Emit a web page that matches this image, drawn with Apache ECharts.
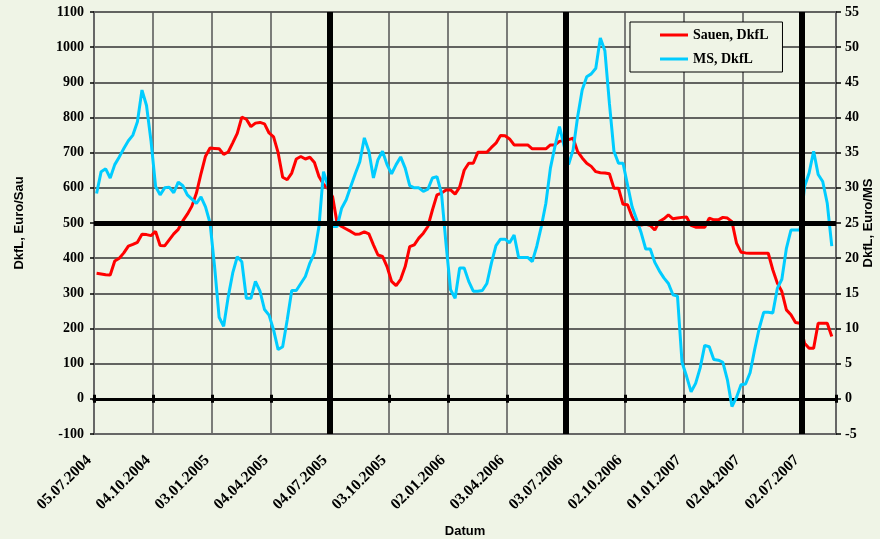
<!DOCTYPE html>
<html><head><meta charset="utf-8">
<script src="https://cdn.jsdelivr.net/npm/echarts@6/dist/echarts.min.js"></script>
<style>html,body{margin:0;padding:0;background:#eff4e6}#c{width:880px;height:539px}</style>
</head><body><div id="c"></div>
<script>
// Tick labels (every 13 weeks, Mondays)
const tickLabels = ['05.07.2004','04.10.2004','03.01.2005','04.04.2005','04.07.2005','03.10.2005','02.01.2006','03.04.2006','03.07.2006','02.10.2006','01.01.2007','02.04.2007','02.07.2007'];
// Weekly values (first value dated 4 days after first tick)
const sauen = [357,355,353,352,392,400,415,434,439,445,468,467,464,476,436,435,452,469,482,506,
525,548,585,640,690,713,712,711,695,702,728,755,801,795,774,784,786,782,756,745,
700,630,623,642,682,689,682,687,672,632,610,598,575,499,490,483,476,468,469,475,
469,438,409,405,376,334,322,340,376,433,438,457,471,490,537,580,585,594,594,582,
602,650,670,670,701,701,701,715,727,749,748,739,722,722,722,722,711,711,711,711,
722,722,732,735,737,741,703,685,670,661,646,643,642,640,599,599,553,552,518,494,
494,497,493,480,504,512,523,512,514,516,517,493,488,488,488,514,509,509,516,514,
504,443,417,415,414,414,414,414,414,367,329,305,253,239,217,215,158,144,144,215,
215,215,177];
const ms = [29.2,32.3,32.7,31.4,33.3,34.4,35.6,36.7,37.5,39.4,43.9,41.7,36.6,30.2,29.0,30.0,30.1,29.3,30.8,30.3,
29.0,28.4,27.8,28.7,27.3,25.0,18.8,11.6,10.3,14.5,17.9,20.2,19.5,14.3,14.3,16.7,15.3,12.7,11.9,9.8,
7.0,7.4,11.2,15.4,15.4,16.4,17.4,19.3,20.7,24.5,32.3,30.2,24.5,24.5,27.1,28.3,30.2,32.0,33.7,37.1,
35.2,31.4,34.0,35.2,33.3,32.0,33.3,34.4,32.8,30.3,30.0,30.0,29.5,29.8,31.4,31.6,29.2,22.0,15.5,14.3,
18.6,18.6,16.7,15.3,15.3,15.4,16.4,19.3,21.8,22.7,22.7,22.2,23.3,20.1,20.1,20.1,19.5,21.7,24.5,27.8,
32.8,35.9,38.7,36.0,33.3,35.4,40.1,43.9,45.8,46.2,47.0,51.3,49.5,42.0,35.2,33.5,33.5,30.4,27.3,25.5,
23.6,21.3,21.3,19.4,18.2,17.2,16.4,14.8,14.6,5.2,3.2,1.0,2.2,4.4,7.6,7.4,5.6,5.5,5.2,2.7,
-1.1,0.2,2.0,2.1,3.7,7.0,10.0,12.3,12.3,12.2,15.7,17.0,21.4,24.0,24.0,24.0,30.2,32.1,35.2,31.9,
30.9,27.8,21.7];
const legendNames = ['Sauen, DkfL','MS, DkfL'];
const yearMarks = ['04.07.2005','03.07.2006','02.07.2007'];
const refLevel = 500;

const weeksPerTick = 13;
const dataOffsetWeeks = 4 / 7;
const xMax = 163.5;
const serif = '"Liberation Serif", "Times New Roman", serif';
const sans = '"Liberation Sans", Arial, sans-serif';
const bg = '#eff4e6';

const toXY = arr => arr.map((v, i) => [i + dataOffsetWeeks, v]);
const markWeeks = yearMarks.map(l => tickLabels.indexOf(l) * weeksPerTick);

const baseX = { type: 'value', min: 0, max: xMax, interval: weeksPerTick, gridIndex: 0 };

const chart = echarts.init(document.getElementById('c'), null, { renderer: 'canvas' });
chart.setOption({
  backgroundColor: bg,
  animation: false,
  grid: { left: 94, right: 44, top: 12, bottom: 105, containLabel: false, outerBoundsMode: 'none' },
  legend: {
    data: legendNames, orient: 'vertical', left: 630, top: 22,
    icon: 'rect', itemWidth: 28, itemHeight: 3, itemGap: 10, itemTextGap: 3,
    padding: [6, 14, 6, 30], borderColor: '#000', borderWidth: 1, backgroundColor: bg,
    textStyle: { fontFamily: serif, fontWeight: 'bold', fontSize: 14, color: '#000' }
  },
  xAxis: [
    Object.assign({}, baseX, {
      position: 'bottom',
      axisLine: { onZero: false, lineStyle: { color: '#666', width: 2 } },
      axisTick: { show: false },
      splitLine: { show: true, lineStyle: { color: '#555', width: 1.5 } },
      axisLabel: {
        rotate: 45, margin: 19, showMaxLabel: false, padding: [0, 7, 0, 0],
        fontFamily: serif, fontWeight: 'bold', fontSize: 15.5, color: '#000',
        formatter: v => { const k = v / weeksPerTick; return Number.isInteger(k) && tickLabels[k] ? tickLabels[k] : ''; }
      },
      name: 'Datum', nameLocation: 'middle', nameGap: 91, nameMoveOverlap: false,
      nameTextStyle: { fontFamily: sans, fontWeight: 'bold', fontSize: 13, color: '#000' }
    }),
    Object.assign({}, baseX, {
      position: 'bottom',
      axisLine: { onZero: true, onZeroAxisIndex: 0, lineStyle: { color: '#000', width: 3 } },
      axisTick: { show: true, length: 4, lineStyle: { color: '#000', width: 3 } },
      axisLabel: { show: false }, splitLine: { show: false }
    }),
    Object.assign({}, baseX, {
      position: 'bottom',
      axisLine: { onZero: true, onZeroAxisIndex: 0, lineStyle: { color: '#000', width: 3 } },
      axisTick: { show: true, inside: true, length: 4, lineStyle: { color: '#000', width: 3 } },
      axisLabel: { show: false }, splitLine: { show: false }
    })
  ],
  yAxis: [
    {
      type: 'value', min: -100, max: 1100, interval: 100, position: 'left',
      axisLine: { show: true, onZero: false, lineStyle: { color: '#666', width: 2 } },
      axisTick: { show: true, length: 4, lineStyle: { color: '#000', width: 1.5 } },
      axisLabel: { fontFamily: serif, fontWeight: 'bold', fontSize: 14, color: '#000', margin: 10, formatter: v => String(v) },
      splitLine: { show: true, lineStyle: { color: '#333', width: 1.5 } },
      name: 'DkfL, Euro/Sau', nameLocation: 'middle', nameGap: 68, nameRotate: 90, nameMoveOverlap: false,
      nameTextStyle: { fontFamily: sans, fontWeight: 'bold', fontSize: 13, color: '#000' }
    },
    {
      type: 'value', min: -5, max: 55, interval: 5, position: 'right',
      axisLine: { show: true, onZero: false, lineStyle: { color: '#666', width: 2 } },
      axisTick: { show: true, length: 5, lineStyle: { color: '#000', width: 1.5 } },
      axisLabel: { fontFamily: serif, fontWeight: 'bold', fontSize: 14, color: '#000', margin: 9, formatter: v => String(v) },
      splitLine: { show: false },
      name: 'DkfL, Euro/MS', nameLocation: 'middle', nameGap: 26, nameRotate: 90, nameMoveOverlap: false,
      nameTextStyle: { fontFamily: sans, fontWeight: 'bold', fontSize: 13, color: '#000' }
    }
  ],
  series: [
    {
      name: legendNames[0], type: 'line', xAxisIndex: 0, yAxisIndex: 0,
      data: toXY(sauen), symbol: 'none', showSymbol: false,
      lineStyle: { color: '#ff0000', width: 3 }, itemStyle: { color: '#ff0000' }, z: 3,
      markLine: {
        silent: true, symbol: 'none', label: { show: false }, z: 6,
        lineStyle: { color: '#000', type: 'solid' },
        data: markWeeks.map(w => ({ xAxis: w, lineStyle: { color: '#000', width: 6, type: 'solid' } }))
          .concat([{ yAxis: refLevel, lineStyle: { color: '#000', width: 5, type: 'solid' } }])
      }
    },
    {
      name: legendNames[1], type: 'line', xAxisIndex: 0, yAxisIndex: 1,
      data: toXY(ms), symbol: 'none', showSymbol: false,
      lineStyle: { color: '#00ccff', width: 3 }, itemStyle: { color: '#00ccff' }, z: 4
    }
  ]
});
</script></body></html>
